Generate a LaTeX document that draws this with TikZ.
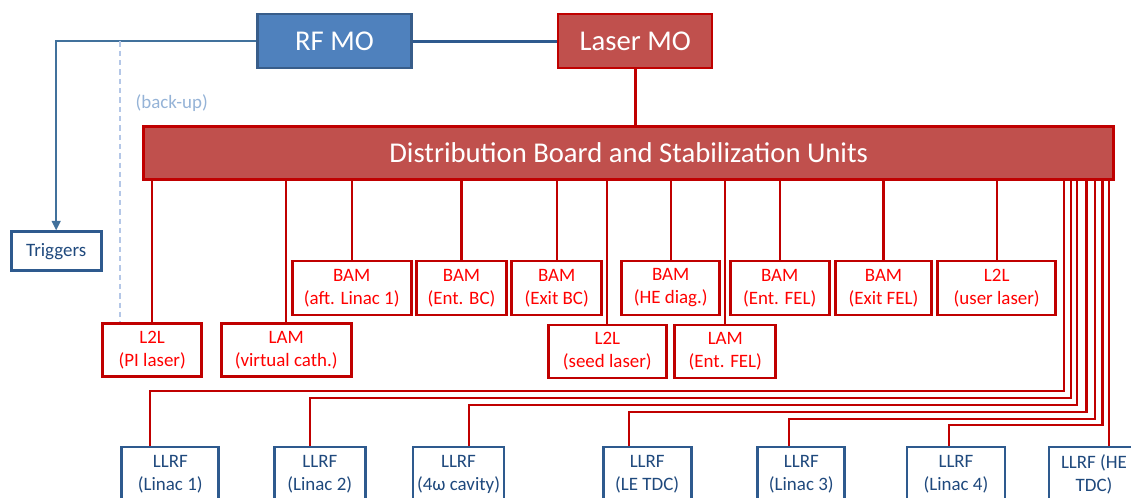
\documentclass[tikz,border=0pt]{standalone}
\usepackage{fontspec}
\setmainfont{Carlito}
\usepackage{xcolor}
\usetikzlibrary{arrows.meta}
\definecolor{rfblue}{HTML}{4F81BD}
\definecolor{rfborder}{HTML}{385D8A}
\definecolor{linkblue}{HTML}{2E5A8E}
\definecolor{trigblue}{HTML}{41719C}
\definecolor{llrftext}{HTML}{1F497D}
\definecolor{laserfill}{HTML}{C0504D}
\definecolor{laserborder}{HTML}{C00000}
\definecolor{unittext}{HTML}{FF0000}
\definecolor{backupblue}{HTML}{B4C7E7}
\definecolor{backuptext}{HTML}{95B3D7}
\tikzset{
  bigfont/.style={font=\fontsize{21.5}{25}\selectfont},
  smallfont/.style={font=\fontsize{14.2}{17.2}\selectfont},
  boxsize/.style 2 args={minimum width=#1*0.75pt,minimum height=#2*0.75pt},
  masterbox/.style={draw=rfborder,fill=rfblue,line width=1.7pt,text=white,bigfont,inner sep=0pt},
  laserbox/.style={draw=laserborder,fill=laserfill,line width=1.7pt,text=white,bigfont,inner sep=0pt},
  unitbox/.style={draw=laserborder,fill=white,line width=2.1pt,text=unittext,smallfont,align=center,inner sep=0pt},
  llrfbox/.style={draw=linkblue,fill=white,line width=2.1pt,text=llrftext,smallfont,align=center,inner sep=0pt},
  redline/.style={draw=laserborder,line width=1.6pt},
  blueline/.style={draw=linkblue,line width=2.2pt},
  triggerarrow/.style={draw=trigblue,line width=1.5pt,-{Triangle[length=7pt,width=6.5pt]}},
  backupline/.style={draw=backupblue,line width=1.3pt,dash pattern=on 4pt off 3pt}
}

\begin{document}
\begin{tikzpicture}[x=0.75pt,y=-0.75pt]
  \clip (0,0) rectangle (1131,497);
  \node[masterbox,boxsize={154}{54}] (rfmo) at (334.5,41.2) {RF MO};
  \node[laserbox,boxsize={154}{54}] (lasermo) at (635.3,41.2) {Laser MO};
  \node[laserbox,boxsize={970}{53},line width=2.2pt] (board) at (628.7,152.7) {Distribution Board and Stabilization Units};
  \node[llrfbox,boxsize={90}{39}] (triggers) at (56.2,251.2) {Triggers};
  \node[text=backuptext,smallfont,anchor=west] (backup) at (131,103) {(back-up)};

  \node[unitbox,boxsize={99}{53}] (l2lpi) at (152.2,350) {L2L\\(PI laser)};
  \node[unitbox,boxsize={130}{53}] (lamvc) at (286.2,350) {LAM\\(virtual cath.)};
  \node[unitbox,boxsize={119}{54}] (bamlin) at (351.7,287.9) {BAM\\(aft. Linac 1)};
  \node[unitbox,boxsize={90}{54}] (bamentbc) at (461.5,287.9) {BAM\\(Ent. BC)};
  \node[unitbox,boxsize={90}{54}] (bamexbc) at (556.7,287.9) {BAM\\(Exit BC)};
  \node[unitbox,boxsize={118}{53}] (l2lseed) at (607.3,351.5) {L2L\\(seed laser)};
  \node[unitbox,boxsize={98}{54}] (bamhe) at (670.7,287.9) {BAM\\(HE diag.)};
  \node[unitbox,boxsize={101}{53}] (lamfel) at (725.3,351.5) {LAM\\(Ent. FEL)};
  \node[unitbox,boxsize={99}{54}] (bamentfel) at (779.7,287.9) {BAM\\(Ent. FEL)};
  \node[unitbox,boxsize={96}{54}] (bamexfel) at (883.5,287.9) {BAM\\(Exit FEL)};
  \node[unitbox,boxsize={118}{54}] (l2luser) at (996.7,287.9) {L2L\\(user laser)};

  \node[llrfbox,boxsize={97}{55}] (llrfA) at (170.3,474.5) {LLRF\\(Linac 1)};
  \node[llrfbox,boxsize={91}{55}] (llrfB) at (319.8,474.5) {LLRF\\(Linac 2)};
  \node[llrfbox,boxsize={91}{55}] (llrfC) at (458.5,474.5) {LLRF\\(4ω cavity)};
  \node[llrfbox,boxsize={88}{55}] (llrfD) at (647.2,474.5) {LLRF\\(LE TDC)};
  \node[llrfbox,boxsize={87}{55}] (llrfE) at (801.3,474.5) {LLRF\\(Linac 3)};
  \node[llrfbox,boxsize={98}{55}] (llrfF) at (956,474.5) {LLRF\\(Linac 4)};
  \node[llrfbox,boxsize={90}{55}] (llrfG) at (1094,474.5) {LLRF (HE\\TDC)};

  \draw[blueline] (rfmo.east) -- (lasermo.west);
  \draw[redline,line width=2.3pt] (lasermo.south) -- (lasermo.south |- board.north);
  \draw[triggerarrow] (rfmo.west) -| (triggers.north);
  \draw[backupline] (120,0 |- rfmo.west) -- (l2lpi.north -| 120,0);

  \foreach \unit in {l2lpi,lamvc,bamlin,bamentbc,bamexbc,l2lseed,bamhe,lamfel,bamentfel,bamexfel,l2luser}
    \draw[redline] (\unit.north) -- (\unit.north |- board.south);

  \foreach \llrf/\tap/\drop/\level in {llrfA/1064/150/391,llrfB/1070.7/310/398,llrfC/1076.7/469/405,
      llrfD/1086.5/629/412,llrfE/1095/789/419,llrfF/1102.5/949/425}
    \draw[redline] (\llrf.north -| \drop,0) |- (\tap,\level) -- (\tap,0 |- board.south);
  \draw[redline] (llrfG.north -| 1109.3,0) -- (1109.3,0 |- board.south);
\end{tikzpicture}
\end{document}
